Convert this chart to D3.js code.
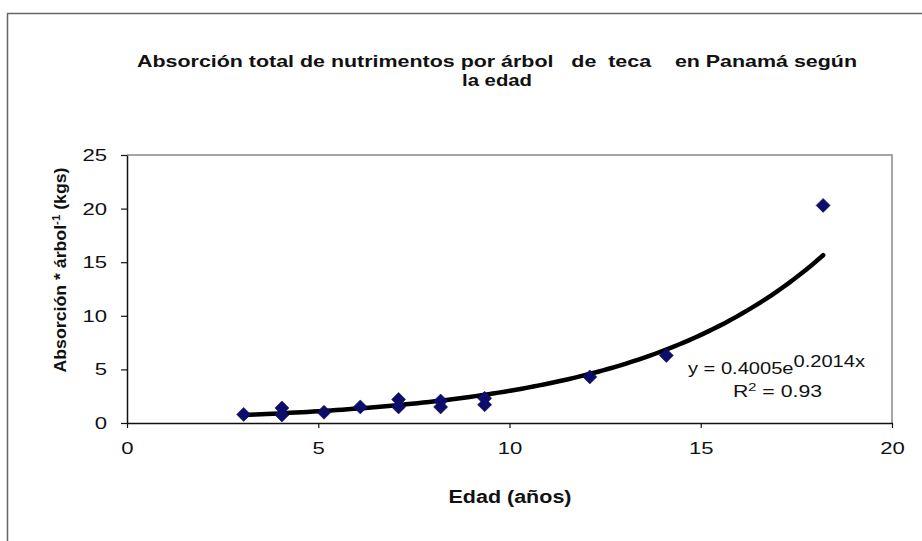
<!DOCTYPE html>
<html lang="es">
<head>
<meta charset="UTF-8"/>
<title>Absorción total de nutrimentos por árbol de teca</title>
<script src="https://d3js.org/d3.v7.min.js"></script>
<style>
  body { margin: 0; background: #fff; }
  svg text { font-family: "Liberation Sans", Arial, sans-serif; }
</style>
</head>
<body>
<script>
// ---- data ----
var ages   = [3.05, 4.05, 4.05, 5.15, 6.1, 7.1, 7.1, 8.2, 8.2, 9.35, 9.35, 12.1, 14.1, 18.2];
var values = [0.8, 1.4, 0.75, 1.0, 1.5, 2.2, 1.5, 2.05, 1.5, 2.3, 1.7, 4.3, 6.3, 20.3];
var xTicks = [0, 5, 10, 15, 20];
var yTicks = [0, 5, 10, 15, 20, 25];
// trendline coefficients shown on the chart
var fitA = 0.4005, fitB = 0.2014;

var w = 922, h = 541;
var pLeft = 127, pRight = 892, pTop = 155, pBottom = 423;
var stretch = 1.3; // scanned chart is wider than its type

var svg = d3.select("body").append("svg")
    .attr("width", w)
    .attr("height", h);

// outer frame
svg.append("rect")
    .attr("x", 7.5).attr("y", 13.5)
    .attr("width", 930).attr("height", 560)
    .attr("fill", "none").attr("stroke", "#666").attr("stroke-width", 1.5);

var x = d3.scaleLinear().domain([0, 20]).range([pLeft, pRight]);
var y = d3.scaleLinear().domain([0, 25]).range([pBottom, pTop]);

// plot area border (top / right grey)
svg.append("path")
    .attr("d", "M" + pLeft + "," + pTop + "H" + pRight + "V" + pBottom)
    .attr("fill", "none").attr("stroke", "#888").attr("stroke-width", 1.5);

// axes
var xAxis = svg.append("g")
    .attr("transform", "translate(0," + pBottom + ")")
    .call(d3.axisBottom(x).tickValues(xTicks).tickSize(5).tickPadding(14).tickSizeOuter(0));
var yAxis = svg.append("g")
    .attr("transform", "translate(" + pLeft + ",0)")
    .call(d3.axisLeft(y).tickValues(yTicks).tickSize(6).tickPadding(14).tickSizeOuter(0));

[xAxis, yAxis].forEach(function(g) {
    g.select(".domain").attr("stroke", "#111").attr("stroke-width", 1.5);
    g.selectAll(".tick line").attr("stroke", "#111").attr("stroke-width", 1.2);
    g.selectAll(".tick text")
        .attr("fill", "#111")
        .style("font-size", "17px")
        .each(function() {
            var len = this.getComputedTextLength();
            d3.select(this).attr("textLength", len * stretch).attr("lengthAdjust", "spacingAndGlyphs");
        });
});

// trendline
var line = d3.line()
    .x(function(d) { return x(d); })
    .y(function(d) { return y(fitA * Math.exp(fitB * d)); });
var xs = d3.range(0, 101).map(function(i) {
    return d3.min(ages) + (d3.max(ages) - d3.min(ages)) * i / 100;
});
svg.append("path")
    .datum(xs)
    .attr("d", line)
    .attr("fill", "none")
    .attr("stroke", "#000")
    .attr("stroke-width", 4.5)
    .attr("stroke-linecap", "round");

// markers (diamonds)
var r = 7;
svg.selectAll(".pt")
    .data(ages)
    .enter()
    .append("path")
    .attr("class", "pt")
    .attr("transform", function(d, i) { return "translate(" + x(d) + "," + y(values[i]) + ")"; })
    .attr("d", "M0," + (-r) + "L" + r + ",0L0," + r + "L" + (-r) + ",0Z")
    .attr("fill", "#0d0d6e")
    .attr("stroke", "#10104a")
    .attr("stroke-width", 0.6);

// title
svg.append("text")
    .attr("x", 497).attr("y", 67)
    .attr("text-anchor", "middle")
    .attr("fill", "#111")
    .attr("textLength", 720).attr("lengthAdjust", "spacingAndGlyphs")
    .style("font-size", "17px").style("font-weight", "bold")
    .style("white-space", "pre")
    .text("Absorción total de nutrimentos por árbol   de  teca    en Panamá según");
svg.append("text")
    .attr("x", 497).attr("y", 86)
    .attr("text-anchor", "middle")
    .attr("fill", "#111")
    .attr("textLength", 70).attr("lengthAdjust", "spacingAndGlyphs")
    .style("font-size", "17px").style("font-weight", "bold")
    .text("la edad");

// axis titles
svg.append("text")
    .attr("x", 510).attr("y", 503)
    .attr("text-anchor", "middle")
    .attr("fill", "#111")
    .attr("textLength", 123).attr("lengthAdjust", "spacingAndGlyphs")
    .style("font-size", "18px").style("font-weight", "bold")
    .text("Edad (años)");

var yt = svg.append("text")
    .attr("transform", "translate(66,270) rotate(-90)")
    .attr("text-anchor", "middle")
    .attr("fill", "#111")
    .attr("textLength", 205).attr("lengthAdjust", "spacingAndGlyphs")
    .style("font-weight", "bold")
    .style("font-size", "17px");
yt.append("tspan").text("Absorción * árbol");
yt.append("tspan").attr("dy", -6).style("font-size", "11px").text("-1");
yt.append("tspan").attr("dy", 6).text(" (kgs)");

// equation
var eq = svg.append("text")
    .attr("x", 688).attr("y", 374)
    .attr("fill", "#111")
    .attr("textLength", 177).attr("lengthAdjust", "spacingAndGlyphs")
    .style("font-size", "16px");
eq.append("tspan").text("y = 0.4005e");
eq.append("tspan").attr("dy", -7).text("0.2014x");

var r2 = svg.append("text")
    .attr("x", 733).attr("y", 397)
    .attr("fill", "#111")
    .attr("textLength", 89).attr("lengthAdjust", "spacingAndGlyphs")
    .style("font-size", "16px");
r2.append("tspan").text("R");
r2.append("tspan").attr("dy", -6).style("font-size", "11px").text("2");
r2.append("tspan").attr("dy", 6).text(" = 0.93");
</script>
</body>
</html>
